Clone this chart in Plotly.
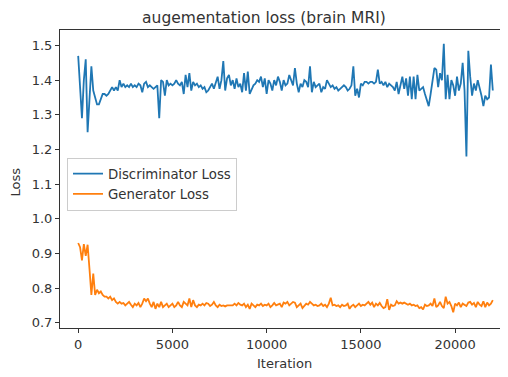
import plotly.graph_objects as go

iterations = list(range(0, 22100, 100))

discriminator_loss = [
    1.47, 1.36, 1.29, 1.40, 1.46, 1.25, 1.35, 1.44, 1.37, 1.35,
    1.33, 1.33, 1.345, 1.36, 1.36, 1.355, 1.36, 1.37, 1.38, 1.37,
    1.38, 1.37, 1.40, 1.38, 1.39, 1.38, 1.385, 1.38, 1.39, 1.38,
    1.385, 1.38, 1.39, 1.385, 1.365, 1.39, 1.395, 1.38, 1.385, 1.38,
    1.375, 1.38, 1.385, 1.29, 1.40, 1.395, 1.355, 1.40, 1.385, 1.39,
    1.385, 1.39, 1.40, 1.39, 1.385, 1.395, 1.36, 1.415, 1.38, 1.42,
    1.37, 1.395, 1.385, 1.39, 1.38, 1.385, 1.375, 1.38, 1.365, 1.37,
    1.38, 1.39, 1.375, 1.395, 1.41, 1.375, 1.40, 1.455, 1.37, 1.405,
    1.415, 1.385, 1.40, 1.375, 1.405, 1.38, 1.39, 1.365, 1.42, 1.37,
    1.425, 1.36, 1.375, 1.385, 1.39, 1.40, 1.395, 1.41, 1.38, 1.405,
    1.36, 1.40, 1.39, 1.37, 1.40, 1.385, 1.41, 1.395, 1.37, 1.40,
    1.385, 1.39, 1.415, 1.40, 1.385, 1.435, 1.39, 1.365, 1.39, 1.38,
    1.40, 1.395, 1.38, 1.44, 1.365, 1.395, 1.38, 1.385, 1.39, 1.365,
    1.38, 1.375, 1.40, 1.39, 1.38, 1.385, 1.375, 1.38, 1.37, 1.375,
    1.38, 1.385, 1.38, 1.37, 1.375, 1.385, 1.44, 1.355, 1.375, 1.35,
    1.39, 1.385, 1.395, 1.395, 1.39, 1.395, 1.395, 1.39, 1.395, 1.43,
    1.39, 1.395, 1.385, 1.395, 1.38, 1.39, 1.385, 1.38, 1.37, 1.395,
    1.36, 1.39, 1.41, 1.375, 1.405, 1.355, 1.41, 1.345, 1.41, 1.345,
    1.415, 1.37, 1.375, 1.38, 1.36, 1.345, 1.325, 1.36, 1.395, 1.435,
    1.43, 1.38, 1.42, 1.40, 1.505, 1.345, 1.415, 1.345, 1.40, 1.385,
    1.355, 1.41, 1.37, 1.39, 1.45, 1.37, 1.18, 1.485, 1.41, 1.355,
    1.39, 1.37, 1.40, 1.38, 1.355, 1.325, 1.355, 1.345, 1.35, 1.445, 1.37,
]

generator_loss = [
    0.93, 0.918, 0.88, 0.927, 0.893, 0.925, 0.855, 0.78, 0.842, 0.78,
    0.795, 0.785, 0.79, 0.78, 0.775, 0.775, 0.77, 0.775, 0.765, 0.77,
    0.76, 0.755, 0.76, 0.755, 0.757, 0.75, 0.755, 0.76, 0.752, 0.745,
    0.755, 0.75, 0.757, 0.745, 0.755, 0.77, 0.762, 0.77, 0.755, 0.745,
    0.76, 0.74, 0.755, 0.745, 0.76, 0.745, 0.75, 0.755, 0.745, 0.75,
    0.755, 0.745, 0.75, 0.76, 0.75, 0.745, 0.76, 0.755, 0.75, 0.77,
    0.745, 0.765, 0.75, 0.745, 0.752, 0.75, 0.755, 0.75, 0.757, 0.755,
    0.748, 0.752, 0.76, 0.75, 0.745, 0.752, 0.748, 0.75, 0.747, 0.75,
    0.75, 0.752, 0.75, 0.755, 0.75, 0.757, 0.752, 0.75, 0.755, 0.745,
    0.752, 0.74, 0.755, 0.75, 0.745, 0.752, 0.75, 0.755, 0.748, 0.752,
    0.75, 0.755, 0.745, 0.75, 0.757, 0.75, 0.752, 0.755, 0.745, 0.758,
    0.755, 0.76, 0.75, 0.755, 0.76, 0.758, 0.745, 0.75, 0.755, 0.742,
    0.748, 0.755, 0.752, 0.76, 0.755, 0.75, 0.752, 0.748, 0.75, 0.755,
    0.748, 0.752, 0.745, 0.755, 0.772, 0.75, 0.752, 0.748, 0.75, 0.745,
    0.752, 0.748, 0.75, 0.755, 0.74, 0.748, 0.752, 0.745, 0.75, 0.755,
    0.748, 0.752, 0.75, 0.755, 0.76, 0.752, 0.758, 0.745, 0.755, 0.75,
    0.757, 0.748, 0.742, 0.745, 0.768, 0.737, 0.752, 0.748, 0.75, 0.762,
    0.755, 0.758, 0.755, 0.758, 0.755, 0.752, 0.755, 0.75, 0.752, 0.748,
    0.75, 0.742, 0.745, 0.738, 0.752, 0.748, 0.75, 0.755, 0.748, 0.77,
    0.745, 0.75, 0.76, 0.748, 0.742, 0.775, 0.755, 0.76, 0.748, 0.73,
    0.755, 0.75, 0.758, 0.745, 0.755, 0.752, 0.748, 0.758, 0.76, 0.752,
    0.757, 0.745, 0.76, 0.752, 0.748, 0.762, 0.745, 0.758, 0.75, 0.755, 0.765,
]

x_ticks = [0, 5000, 10000, 15000, 20000]
y_ticks = [0.7, 0.8, 0.9, 1.0, 1.1, 1.2, 1.3, 1.4, 1.5]

font = "DejaVu Sans"
text_col = "#333333"

# The page body has an 8px default margin; the figure is sized to fill the rest.
W, H = 500, 369
L, T, B = 52, 22, 49
plot_w, plot_h = W - L, H - T - B

fig = go.Figure()
fig.add_trace(go.Scatter(x=iterations, y=discriminator_loss, mode="lines",
                         name="Discriminator Loss",
                         line=dict(color="#1f77b4", width=1.8)))
fig.add_trace(go.Scatter(x=iterations, y=generator_loss, mode="lines",
                         name="Generator Loss",
                         line=dict(color="#ff7f0e", width=1.8)))

fig.update_layout(
    width=W, height=H,
    margin=dict(l=L, r=0, t=T, b=B, pad=0, autoexpand=False),
    paper_bgcolor="white", plot_bgcolor="white",
    font=dict(family=font, size=13, color=text_col),
    title=dict(text="augementation loss (brain MRI)", x=256 / W, xref="container",
               xanchor="center", y=1 - 9.5 / H, yref="container", yanchor="middle",
               font=dict(family=font, size=15.5, color=text_col)),
    showlegend=True,
    legend=dict(x=7 / plot_w, y=1 - 127.5 / plot_h, xanchor="left", yanchor="top",
                bgcolor="rgba(255,255,255,0.8)", bordercolor="#cccccc", borderwidth=1,
                font=dict(family=font, size=13.3, color=text_col)),
    xaxis=dict(range=[-965, 22806], tickvals=x_ticks, ticktext=[str(v) for v in x_ticks],
               automargin=False,
               showgrid=False, zeroline=False, showline=True, linecolor="#333333",
               linewidth=1, mirror=True, ticks="outside", ticklen=4, tickcolor="#333333"),
    yaxis=dict(range=[0.6847, 1.5447], tickvals=y_ticks,
               ticktext=[f"{v:.1f}" for v in y_ticks],
               automargin=False,
               showgrid=False, zeroline=False, showline=True, linecolor="#333333",
               linewidth=1, ticks="outside", ticklen=4, tickcolor="#333333"),
    annotations=[
        dict(text="Iteration", xref="paper", yref="paper", x=0.5, y=-(355 - 320) / plot_h,
             xanchor="center", yanchor="middle", showarrow=False,
             font=dict(family=font, size=13, color=text_col)),
        dict(text="Loss", xref="paper", yref="paper", x=-(52 - 7.5) / plot_w, y=0.5 - 3 / plot_h,
             xanchor="center", yanchor="middle", showarrow=False, textangle=-90,
             font=dict(family=font, size=13, color=text_col)),
    ],
)

fig.write_html("out.html")
